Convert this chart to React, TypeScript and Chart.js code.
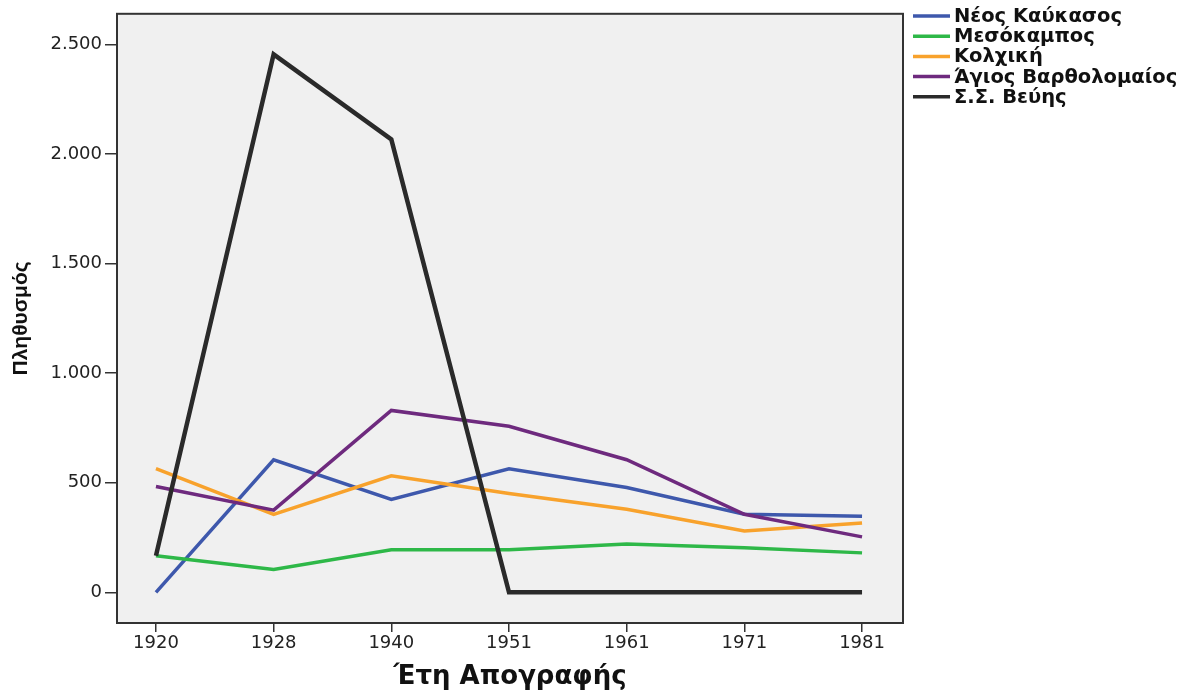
import React, { useEffect, useRef } from "react";
import { Chart, registerables } from "chart.js";

Chart.register(...registerables);

const years = ["1920", "1928", "1940", "1951", "1961", "1971", "1981"];
const yTickValues = [0, 500, 1000, 1500, 2000, 2500];

const neosKaukasos = [0, 605, 424, 564, 478, 356, 347];
const mesokampos = [167, 104, 194, 194, 221, 203, 180];
const kolchiki = [564, 356, 532, 451, 379, 280, 316];
const agiosVartholomaios = [483, 375, 830, 758, 605, 356, 253];
const ssVeuis = [167, 2455, 2067, 0, 0, 0, 0];

const seriesLabels = ["Νέος Καύκασος", "Μεσόκαμπος", "Κολχική", "Άγιος Βαρθολομαίος", "Σ.Σ. Βεύης"];
const seriesValues = [neosKaukasos, mesokampos, kolchiki, agiosVartholomaios, ssVeuis];
const seriesColors = ["#3E58AC", "#2EB848", "#F8A22C", "#6E2A7E", "#2A2A2A"];
const seriesWidths = [3.5, 3.5, 3.5, 3.5, 4.5];
const seriesOrder = [4, 3, 2, 1, 0];

const fmt = (v: number) => String(v).replace(/\B(?=(\d{3})+(?!\d))/g, ".");

const plotFrame = {
  id: "plotFrame",
  beforeDatasetsDraw(chart: any) {
    const { ctx, chartArea: a } = chart;
    ctx.save();
    ctx.fillStyle = "#F0F0F0";
    ctx.fillRect(a.left, a.top, a.right - a.left, a.bottom - a.top);
    ctx.restore();
  },
  afterDatasetsDraw(chart: any) {
    const { ctx, chartArea: a } = chart;
    ctx.save();
    ctx.strokeStyle = "#333";
    ctx.lineWidth = 2;
    ctx.strokeRect(a.left, a.top, a.right - a.left, a.bottom - a.top);
    ctx.restore();
  },
};

const sideLegend = {
  id: "sideLegend",
  afterDraw(chart: any) {
    const { ctx } = chart;
    ctx.save();
    chart.data.datasets.forEach((ds: any, i: number) => {
      const y = 16 + i * 20.2;
      ctx.strokeStyle = ds.borderColor;
      ctx.lineWidth = 3.5;
      ctx.beginPath();
      ctx.moveTo(913, y);
      ctx.lineTo(950, y);
      ctx.stroke();
      ctx.fillStyle = "#111";
      ctx.font = "bold 19.5px 'DejaVu Sans'";
      ctx.textBaseline = "middle";
      ctx.textAlign = "left";
      ctx.fillText(ds.label, 954, y + 1);
    });
    ctx.restore();
  },
};

export default function App() {
  const ref = useRef<HTMLCanvasElement | null>(null);
  useEffect(() => {
    if (!ref.current) return;
    const chart = new Chart(ref.current, {
      type: "line",
      data: {
        datasets: seriesLabels.map((label, i) => ({
          label,
          data: seriesValues[i].map((v, j) => ({ x: j, y: v })),
          borderColor: seriesColors[i],
          backgroundColor: seriesColors[i],
          borderWidth: seriesWidths[i],
          pointRadius: 0,
          tension: 0,
          order: seriesOrder[i],
          borderJoinStyle: "miter" as const,
        })),
      },
      options: {
        animation: false,
        responsive: false,
        layout: { padding: { top: 8, right: 282, left: 0, bottom: 0 } },
        plugins: { legend: { display: false }, tooltip: { enabled: false } },
        scales: {
          x: {
            type: "linear",
            min: -0.331,
            max: 6.348,
            afterBuildTicks: (s: any) => {
              s.ticks = years.map((_, i) => ({ value: i }));
            },
            afterFit: (s: any) => {
              s.height = 71;
            },
            ticks: {
              callback: (v: any) => years[Math.round(Number(v))] ?? "",
              font: { family: "'DejaVu Sans'", size: 18 },
              color: "#222",
              padding: 1,
              maxRotation: 0,
              autoSkip: false,
            },
            grid: { drawOnChartArea: false, drawTicks: true, tickLength: 9, color: "#333", lineWidth: 1.5 },
            border: { display: false },
            title: {
              display: true,
              text: "Έτη Απογραφής",
              font: { family: "'DejaVu Sans'", size: 26, weight: "bold" },
              color: "#111",
              padding: { top: 0, bottom: 1 },
            },
          },
          y: {
            type: "linear",
            min: -140,
            max: 2640,
            afterBuildTicks: (s: any) => {
              s.ticks = yTickValues.map((v) => ({ value: v }));
            },
            afterFit: (s: any) => {
              s.width = 117;
            },
            ticks: {
              callback: (v: any) => fmt(Number(v)),
              font: { family: "'DejaVu Sans'", size: 18 },
              color: "#222",
              padding: 3,
            },
            grid: { drawOnChartArea: false, drawTicks: true, tickLength: 12, color: "#333", lineWidth: 1.5 },
            border: { display: false },
            title: {
              display: true,
              text: "Πληθυσμός",
              font: { family: "'Liberation Sans'", size: 21, weight: "bold" },
              color: "#111",
              padding: { top: 9, bottom: 0 },
            },
          },
        },
      },
      plugins: [plotFrame, sideLegend],
    });
    return () => chart.destroy();
  }, []);
  return (
    <div style={{ position: "absolute", left: 0, top: 0, width: 1185, height: 694, background: "#fff" }}>
      <canvas ref={ref} width={1185} height={694} />
    </div>
  );
}
